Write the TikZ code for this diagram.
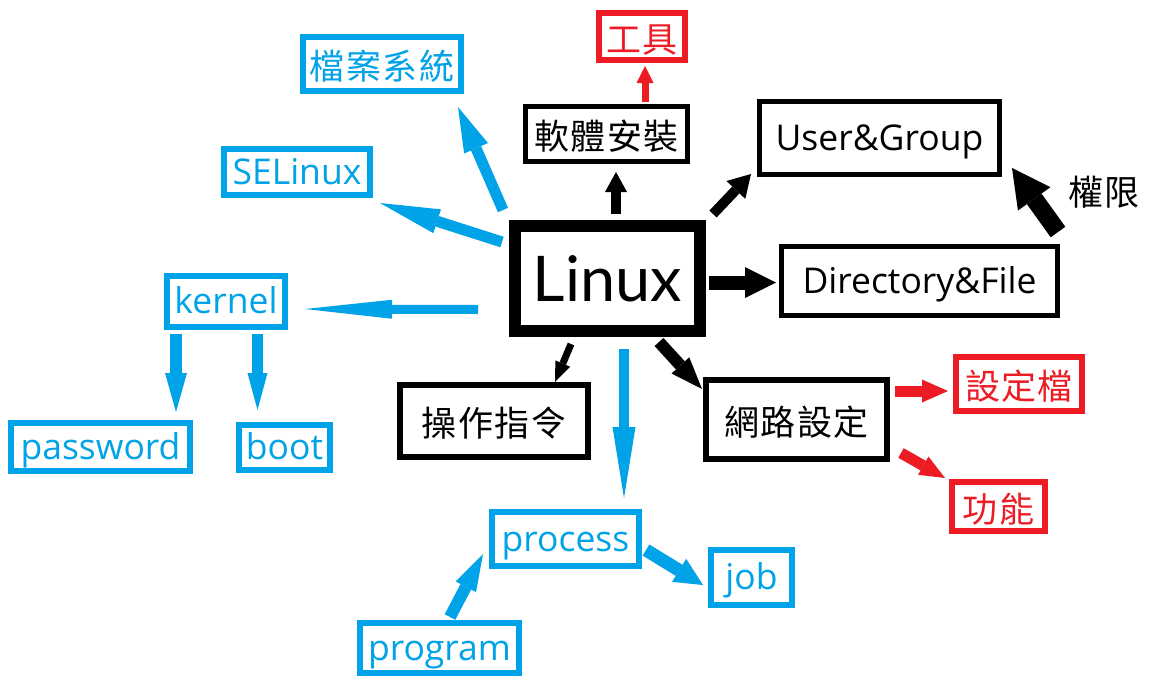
\documentclass[tikz,border=0pt]{standalone}
\usepackage{fontspec}
\setmainfont{Open Sans}
\newfontfamily\bigfont{Lato}
\newfontfamily\cjk[LetterSpace=4]{Noto Sans CJK TC}
\usetikzlibrary{arrows.meta}
\definecolor{myblue}{HTML}{00A2E8}
\definecolor{myred}{HTML}{ED1C24}
\begin{document}
\begin{tikzpicture}[x=1pt,y=-1pt,
  box/.style={draw, line width=5pt, inner sep=0pt, anchor=center},
  bbox/.style={box, draw=black, text=black},
  bluebox/.style={box, draw=myblue, text=myblue, line width=6pt},
  redbox/.style={box, draw=myred, text=myred, line width=6pt},
  lat/.style={font=\fontsize{35.5}{40}\selectfont, text height=25pt, text depth=1pt},
  cj/.style={font=\cjk\fontsize{35}{40}\selectfont, text height=32pt, text depth=1pt},
  arr/.style n args={5}{draw=#1, line width=#2, -{Triangle[width=#3, length=#4, line width=0pt]}, fill=#1, #5},
]
\useasboundingbox[fill=white] (0,0) rectangle (1151,686);

% nodes
\node[bbox, line width=12pt, minimum width=185pt, minimum height=105pt,
      font=\bigfont\fontsize{63}{68}\selectfont, text height=46pt, text depth=0pt] (linux) at (607.5,278.5) {Linux};
\node[redbox, cj, minimum width=86pt, minimum height=47pt] (tools) at (642,36.5) {工具};
\node[bbox, cj, minimum width=162pt, minimum height=55pt] (soft) at (606.5,134) {軟體安裝};
\node[bbox, lat, minimum width=240pt, minimum height=73pt] (ug) at (879.5,138) {User\&Group};
\node[cj, text=black, inner sep=0pt] (perm) at (1104,190) {權限};
\node[bluebox, cj, minimum width=158pt, minimum height=54pt] (fs) at (382,64) {檔案系統};
\node[bluebox, lat, minimum width=146pt, minimum height=46pt] (se) at (297,172) {SELinux};
\node[bbox, lat, minimum width=276pt, minimum height=69pt] (dir) at (919.5,281) {Directory\&File};
\node[bluebox, lat, minimum width=118pt, minimum height=51pt] (kernel) at (226,301.5) {kernel};
\node[bluebox, lat, minimum width=179pt, minimum height=48pt] (password) at (100.5,447) {password};
\node[bluebox, lat, minimum width=91pt, minimum height=45pt] (boot) at (284.5,447.5) {boot};
\node[bbox, cj, line width=6pt, minimum width=188pt, minimum height=72pt] (cmd) at (494,421) {操作指令};
\node[bbox, cj, line width=6pt, minimum width=181pt, minimum height=79pt] (net) at (796.5,419.5) {網路設定};
\node[redbox, cj, minimum width=126pt, minimum height=54pt] (cfg) at (1019,384) {設定檔};
\node[redbox, cj, minimum width=93pt, minimum height=49pt] (func) at (998.5,506.5) {功能};
\node[bluebox, lat, minimum width=147pt, minimum height=54pt] (process) at (565.5,539) {process};
\node[bluebox, lat, minimum width=81pt, minimum height=55pt] (job) at (751.5,577.5) {job};
\node[bluebox, lat, minimum width=159pt, minimum height=50pt] (program) at (439.5,648) {program};

% connectors
\draw[arr={black}{10pt}{22pt}{20pt}{}] ([shift={(8.5,-6)}]linux.north) -- ([shift={(9.5,8)}]soft.south);
\draw[arr={myred}{7pt}{17pt}{17pt}{}] ([shift={(38.5,-2)}]soft.north) -- ([shift={(3,3)}]tools.south);
\draw[arr={black}{10pt}{26pt}{22pt}{}] ([shift={(7,-6)}]linux.north east) -- ([shift={(-6,-3)}]ug.south west);
\draw[arr={black}{14pt}{31pt}{31pt}{}] ([shift={(3,4)}]linux.east) -- ([shift={(-3,1.5)}]dir.west);
\draw[arr={black}{18pt}{40pt}{38pt}{}] ([shift={(-2,-12)}]dir.north east) -- ([shift={(10,-9)}]ug.south east);
\draw[arr={myblue}{11pt}{26pt}{45pt}{}] ([shift={(-6,-10)}]linux.north west) -- ([shift={(-6,13)}]fs.south east);
\draw[arr={myblue}{11pt}{25pt}{60pt}{}] ([shift={(-7,-36.5)}]linux.west) -- ([shift={(7,5)}]se.south east);
\draw[arr={myblue}{9pt}{19pt}{87pt}{}] ([shift={(-31,31)}]linux.west) -- ([shift={(17,7.5)}]kernel.east);
\draw[arr={myblue}{12pt}{22pt}{39pt}{}] ([shift={(12,4)}]kernel.south west) -- ([shift={(-17,-8)}]password.north east);
\draw[arr={myblue}{11pt}{20pt}{37pt}{}] ([shift={(-30.5,4)}]kernel.south east) -- ([shift={(21.5,-12)}]boot.north west);
\draw[arr={black}{7pt}{16pt}{20pt}{}] ([shift={(-36.5,7)}]linux.south) -- ([shift={(-36,0)}]cmd.north east);
\draw[arr={myblue}{10pt}{23pt}{71pt}{}] ([shift={(16.5,12)}]linux.south) -- ([shift={(58.5,-11)}]process.north);
\draw[arr={black}{12pt}{24pt}{32pt}{}] ([shift={(-47,5)}]linux.south east) -- ([shift={(-1,12)}]net.north west);
\draw[arr={myred}{11pt}{23pt}{26pt}{}] ([shift={(5,-28.5)}]net.east) -- ([shift={(-5,7)}]cfg.west);
\draw[arr={myred}{11pt}{21pt}{25pt}{}] ([shift={(11,-9)}]net.south east) -- ([shift={(-4,-1)}]func.north west);
\draw[arr={myblue}{13pt}{27pt}{28pt}{}] ([shift={(4,11)}]process.east) -- ([shift={(-5,7.5)}]job.west);
\draw[arr={myblue}{12pt}{23pt}{37pt}{}] ([shift={(10.5,-3)}]program.north) -- ([shift={(-6,15)}]process.west);
\end{tikzpicture}
\end{document}
